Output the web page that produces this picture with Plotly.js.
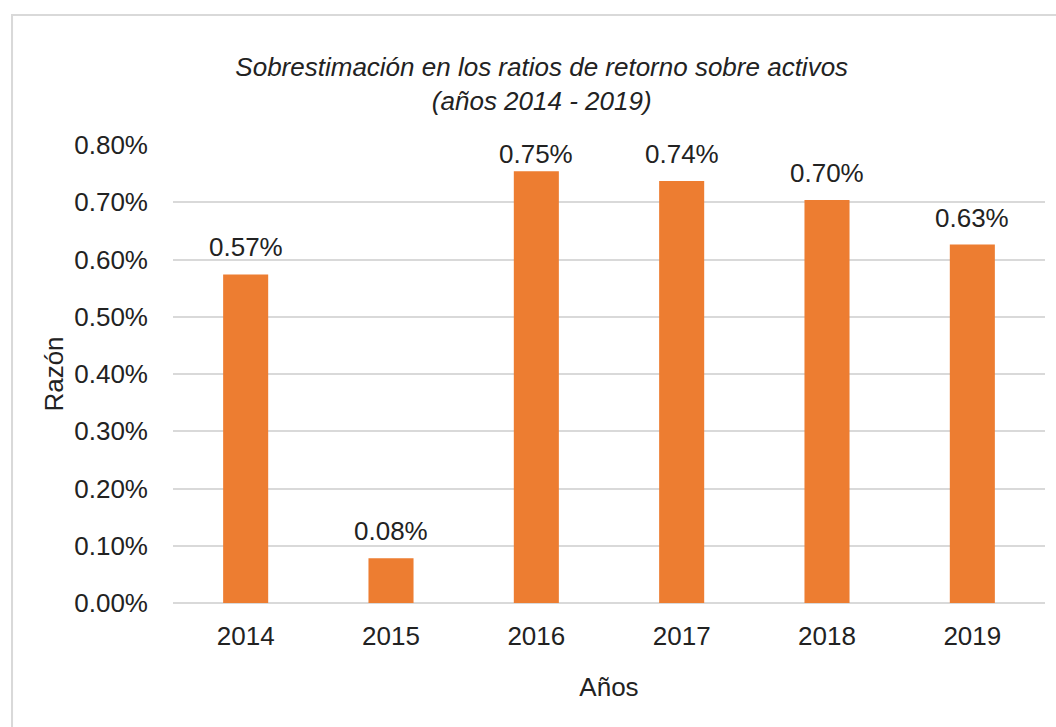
<!DOCTYPE html>
<html><head><meta charset="utf-8">
<script src="https://cdn.plot.ly/plotly-3.0.1.min.js"></script>
<style>html,body{margin:0;padding:0;background:#fff}#c{width:1056px;height:727px}</style>
</head><body><div id="c"></div>
<script>
var years = ['2014','2015','2016','2017','2018','2019'];
var ratios = [0.574, 0.078, 0.754, 0.737, 0.704, 0.626];
var yTicks = [0, 0.1, 0.2, 0.3, 0.4, 0.5, 0.6, 0.7, 0.8];
var yTickText = yTicks.map(function(v){ return v.toFixed(2) + '%'; });

var F = 'Liberation Sans, Arial, sans-serif';
var txt = '#222';
var FS = 26;
var yMax = 0.8, plotH = 458;
var data = [{
  type: 'bar', x: years, y: ratios,
  marker: {color: '#ED7D31'},
  hoverinfo: 'skip'
}];
// data labels above bars; kept inside the plot area like the original
var annotations = years.map(function(yr, i){
  var room = (yMax - ratios[i]) / yMax * plotH;
  return {x: i, y: ratios[i], xref: 'x', yref: 'y', text: ratios[i].toFixed(2) + '%',
    showarrow: false, yanchor: 'bottom', yshift: Math.min(10, room - 26),
    font: {family: F, size: FS, color: txt}};
});
var layout = {
  width: 1056, height: 727,
  margin: {l: 173, r: 11, t: 145, b: 124},
  paper_bgcolor: '#fff', plot_bgcolor: '#fff',
  bargap: 0.69,
  showlegend: false,
  title: {text: '<i>Sobrestimación en los ratios de retorno sobre activos<br>(años 2014 - 2019)</i>',
    font: {family: F, size: 26, color: txt}, x: 0.513, xanchor: 'center', y: 0.895, yanchor: 'top'},
  xaxis: {
    type: 'category', categoryorder: 'array', categoryarray: years,
    showgrid: false, zeroline: false, showline: false, ticks: '',
    ticklabelstandoff: 15,
    tickfont: {family: F, size: FS, color: txt},
    title: {text: 'Años', font: {family: F, size: FS, color: txt}, standoff: 27}
  },
  yaxis: {
    range: [0, yMax], tickvals: yTicks, ticktext: yTickText,
    showgrid: true, gridcolor: '#d9d9d9', gridwidth: 2,
    zeroline: true, zerolinecolor: '#d9d9d9', zerolinewidth: 2,
    showline: false, ticks: '', ticklabelstandoff: 24,
    tickfont: {family: F, size: FS, color: txt},
    title: {text: 'Razón', font: {family: F, size: FS, color: txt}, standoff: 3}
  },
  annotations: annotations,
  shapes: [{type: 'rect', xref: 'paper', yref: 'paper',
    x0: -0.1846, x1: 1.02, y0: -0.28, y1: 1.2838,
    line: {color: '#d9d9d9', width: 2}, fillcolor: 'rgba(0,0,0,0)', layer: 'below'}]
};
Plotly.newPlot('c', data, layout, {displayModeBar: false, staticPlot: true});
</script></body></html>
